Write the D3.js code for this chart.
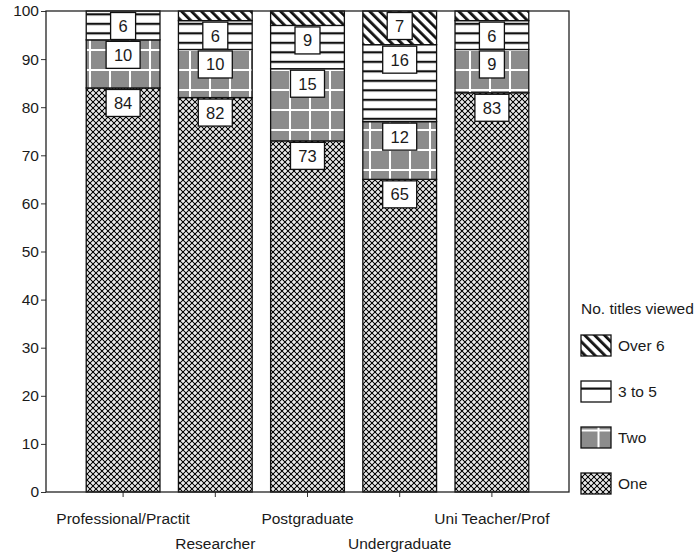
<!DOCTYPE html>
<html>
<head>
<meta charset="utf-8">
<script src="https://cdn.jsdelivr.net/npm/d3@7"></script>
<style>
  body { margin: 0; background: #fff; }
  svg text { font-family: "Liberation Sans", Arial, sans-serif; fill: #1a1a1a; }
</style>
</head>
<body>
<svg id="chart" width="700" height="554"></svg>
<script>
// categories and series (percent of users)
const groups = ["Professional/Practit", "Researcher", "Postgraduate", "Undergraduate", "Uni Teacher/Prof"];
const seriesNames = ["One", "Two", "3 to 5", "Over 6"];
const one    = [84, 82, 73, 65, 83];
const two    = [10, 10, 15, 12, 9];
const three5 = [6, 6, 9, 16, 6];
const over6  = [0, 2, 3, 7, 2];
const yTicks = [0, 10, 20, 30, 40, 50, 60, 70, 80, 90, 100];
const legendTitle = "No. titles viewed";

const series = [one, two, three5, over6];

const svg = d3.select("#chart");
const defs = svg.append("defs");

// plot frame
const frame = { left: 46, right: 569, top: 11, bottom: 492 };

const x = d3.scaleBand()
    .domain(groups)
    .range([77, 538])
    .paddingInner(0.2)
    .paddingOuter(0.1);

const y = d3.scaleLinear()
    .domain([0, 100])
    .range([frame.bottom, frame.top]);

// fill patterns
function makePatterns(suffix, hLineStep, gridStep) {
    // One: black with white crosses
    let p = defs.append("pattern").attr("id", "pOne" + suffix)
        .attr("patternUnits", "userSpaceOnUse").attr("width", 6).attr("height", 6);
    p.append("rect").attr("width", 6).attr("height", 6).attr("fill", "#0a0a0a");
    [[0, 0], [6, 0], [0, 6], [6, 6], [3, 3]].forEach(c => {
        p.append("rect").attr("x", c[0] - 2).attr("y", c[1] - 0.7).attr("width", 4).attr("height", 1.4).attr("fill", "#fff");
        p.append("rect").attr("x", c[0] - 0.7).attr("y", c[1] - 2).attr("width", 1.4).attr("height", 4).attr("fill", "#fff");
    });

    // Two: grey with white grid
    p = defs.append("pattern").attr("id", "pTwo" + suffix)
        .attr("patternUnits", "userSpaceOnUse").attr("width", gridStep).attr("height", gridStep);
    p.append("rect").attr("width", gridStep).attr("height", gridStep).attr("fill", "#8c8c8c");
    p.append("rect").attr("x", gridStep / 2 - 1).attr("width", 2).attr("height", gridStep).attr("fill", "#fff");
    p.append("rect").attr("y", gridStep / 2 - 1).attr("width", gridStep).attr("height", 2).attr("fill", "#fff");

    // 3 to 5: horizontal lines
    p = defs.append("pattern").attr("id", "pThree" + suffix)
        .attr("patternUnits", "userSpaceOnUse").attr("width", 10).attr("height", hLineStep);
    p.append("rect").attr("width", 10).attr("height", hLineStep).attr("fill", "#fff");
    p.append("rect").attr("y", hLineStep / 2 - 1).attr("width", 10).attr("height", 2.2).attr("fill", "#111");

    // Over 6: diagonal hatch
    p = defs.append("pattern").attr("id", "pOver" + suffix)
        .attr("patternUnits", "userSpaceOnUse").attr("width", 7).attr("height", 7)
        .attr("patternTransform", "rotate(-45)");
    p.append("rect").attr("width", 7).attr("height", 7).attr("fill", "#fff");
    p.append("rect").attr("width", 2.8).attr("height", 7).attr("fill", "#111");
}
makePatterns("", 9.5, 20);
makePatterns("L", 21, 21);

const fills = ["pOne", "pTwo", "pThree", "pOver"];
const fontSize = "15.5px";

// y axis
svg.append("g")
    .attr("transform", `translate(${frame.left},0)`)
    .call(d3.axisLeft(y).tickValues(yTicks).tickSize(5).tickPadding(2).tickSizeOuter(0))
    .call(g => g.select(".domain").remove())
    .call(g => g.selectAll("line").attr("stroke", "#333"))
    .call(g => g.selectAll("text").style("font-size", fontSize).attr("fill", "#1a1a1a"));

// x axis ticks
svg.append("g")
    .attr("transform", `translate(0,${frame.bottom})`)
    .call(d3.axisBottom(x).tickSize(5).tickSizeOuter(0).tickFormat(""))
    .call(g => g.select(".domain").remove())
    .call(g => g.selectAll("line").attr("stroke", "#333"));

// x labels, staggered on two rows
svg.append("g").selectAll("text")
    .data(groups)
    .enter()
    .append("text")
    .attr("x", d => x(d) + x.bandwidth() / 2)
    .attr("y", (d, i) => i % 2 === 0 ? 524 : 549)
    .attr("text-anchor", "middle")
    .style("font-size", fontSize)
    .text(d => d);

// stacked segments
const stacked = groups.map((g, i) => {
    let base = 0;
    return series.map((s, k) => {
        const seg = { group: g, k: k, y0: base, y1: base + s[i], value: s[i] };
        base += s[i];
        return seg;
    });
});

const barG = svg.append("g");
stacked.forEach(segs => {
    segs.filter(d => d.value > 0).forEach(d => {
        barG.append("rect")
            .attr("x", x(d.group))
            .attr("y", y(d.y1))
            .attr("width", x.bandwidth())
            .attr("height", y(d.y0) - y(d.y1))
            .attr("fill", `url(#${fills[d.k]})`)
            .attr("stroke", "#111")
            .attr("stroke-width", 1.3);
    });
});

// value labels, boxed, at the inside top of each segment
const labG = svg.append("g");
stacked.forEach(segs => {
    segs.filter(d => d.value >= 5).forEach(d => {
        const txt = String(d.value);
        const w = txt.length > 1 ? 34 : 25;
        const cx = x(d.group) + x.bandwidth() / 2;
        const top = y(d.y1) + 1.5;
        labG.append("rect")
            .attr("x", cx - w / 2)
            .attr("y", top)
            .attr("width", w)
            .attr("height", 27)
            .attr("fill", "#fff")
            .attr("stroke", "#111")
            .attr("stroke-width", 1.3);
        labG.append("text")
            .attr("x", cx)
            .attr("y", top + 19.5)
            .attr("text-anchor", "middle")
            .style("font-size", "16.5px")
            .text(txt);
    });
});

// plot frame
svg.append("rect")
    .attr("x", frame.left)
    .attr("y", frame.top)
    .attr("width", frame.right - frame.left)
    .attr("height", frame.bottom - frame.top)
    .attr("fill", "none")
    .attr("stroke", "#222")
    .attr("stroke-width", 1.3);

// legend
const legend = svg.append("g");
legend.append("text")
    .attr("x", 581)
    .attr("y", 314)
    .style("font-size", fontSize)
    .text(legendTitle);

const legendOrder = [3, 2, 1, 0];
legendOrder.forEach((k, i) => {
    const ly = 335 + i * 46;
    legend.append("rect")
        .attr("x", 581)
        .attr("y", ly)
        .attr("width", 30)
        .attr("height", 21)
        .attr("fill", `url(#${fills[k]}L)`)
        .attr("stroke", "#111")
        .attr("stroke-width", 1.3);
    legend.append("text")
        .attr("x", 618)
        .attr("y", ly + 16)
        .style("font-size", fontSize)
        .text(seriesNames[k]);
});
</script>
</body>
</html>
